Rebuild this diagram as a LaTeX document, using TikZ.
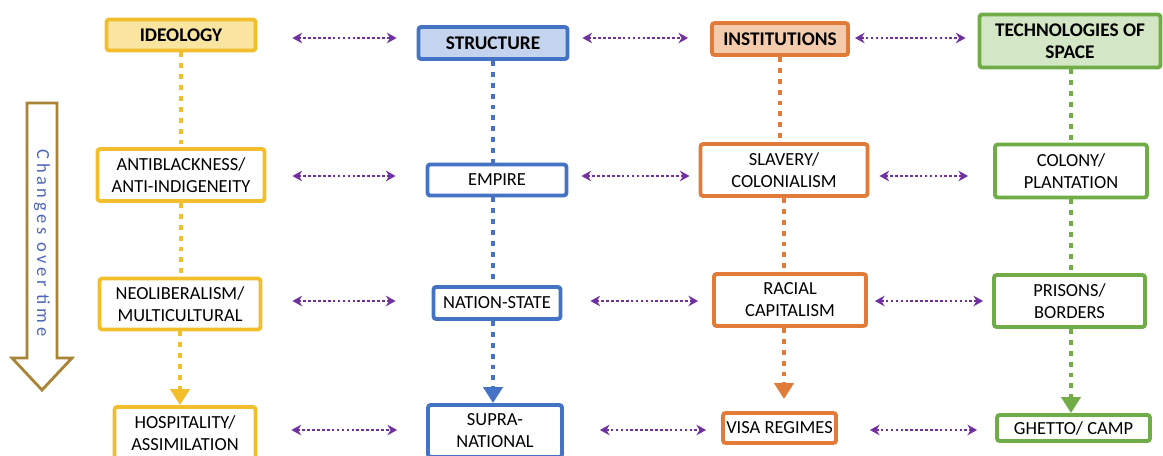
\documentclass[tikz,border=0pt]{standalone}
\usepackage{fontspec}
\setmainfont{Carlito}
\usetikzlibrary{arrows.meta, positioning}

\definecolor{ideoGold}{HTML}{F2BE2C}
\definecolor{ideoFill}{HTML}{F9E4A0}
\definecolor{strucBlue}{HTML}{4472C4}
\definecolor{strucFill}{HTML}{C5D4EE}
\definecolor{instOrange}{HTML}{E07B39}
\definecolor{instFill}{HTML}{F5CBAE}
\definecolor{techGreen}{HTML}{70AD47}
\definecolor{techFill}{HTML}{D3E6C5}
\definecolor{linkPurple}{HTML}{7030A0}
\definecolor{timeBrown}{HTML}{A88434}
\definecolor{timeText}{HTML}{5068B8}

\tikzset{
  box/.style={draw=#1, line width=2.2pt, rounded corners=1.5pt, align=center,
    inner sep=0pt, fill=white, font=\fontsize{10.5}{12.5}\selectfont},
  head/.style={box=#1, font=\fontsize{11}{12.5}\selectfont\bfseries},
  link/.style={linkPurple, line width=1.5pt, dash pattern=on 1.5pt off 1.3pt,
    {Stealth[length=5.5pt,width=6pt]}-{Stealth[length=5.5pt,width=6pt]}},
  flow/.style={line width=2.8pt, dash pattern=on 2.8pt off 3.4pt},
  flowend/.style={flow, -{Triangle[length=0.32cm,width=0.38cm]}}
}

\begin{document}
\begin{tikzpicture}[x=0.02cm, y=-0.02cm]
  \useasboundingbox (0,0) rectangle (1163,456);
  \coordinate (r1) at (0,38);
  \coordinate (r2) at (0,176);
  \coordinate (r3) at (0,301);
  \coordinate (r4) at (0,430);

  \node[head=ideoGold, fill=ideoFill, minimum width=2.98cm, minimum height=0.62cm] (ideo) at (181,35) {IDEOLOGY};
  \node[head=strucBlue, fill=strucFill, minimum width=2.98cm, minimum height=0.64cm] (struc) at (493,43) {STRUCTURE};
  \node[head=instOrange, fill=instFill, minimum width=2.72cm, minimum height=0.64cm] (inst) at (780,39) {INSTITUTIONS};
  \node[head=techGreen, fill=techFill, minimum width=3.62cm, minimum height=1.06cm] (tech) at (1070,41) {TECHNOLOGIES OF\\SPACE};

  \node[box=ideoGold, minimum width=3.34cm, minimum height=1.04cm] (antib) at (181,175) {ANTIBLACKNESS/\\ANTI-INDIGENEITY};
  \node[box=strucBlue, minimum width=2.78cm, minimum height=0.62cm] (empire) at (497,180) {EMPIRE};
  \node[box=instOrange, minimum width=3.34cm, minimum height=1.04cm] (slavery) at (784,170) {SLAVERY/\\COLONIALISM};
  \node[box=techGreen, minimum width=3.04cm, minimum height=1.06cm] (colony) at (1071,171) {COLONY/\\PLANTATION};

  \node[box=ideoGold, minimum width=3.22cm, minimum height=1.02cm] (neolib) at (180,304) {NEOLIBERALISM/\\MULTICULTURAL};
  \node[box=strucBlue, minimum width=2.54cm, minimum height=0.64cm] (nation) at (497,303) {NATION-STATE};
  \node[box=instOrange, minimum width=3.04cm, minimum height=1.04cm] (racial) at (790,300) {RACIAL\\CAPITALISM};
  \node[box=techGreen, minimum width=3.02cm, minimum height=1.04cm] (prisons) at (1069.5,301) {PRISONS/\\BORDERS};

  \node[box=ideoGold, minimum width=2.82cm, minimum height=1.04cm] (hosp) at (185,433) {HOSPITALITY/\\ASSIMILATION};
  \node[box=strucBlue, minimum width=2.68cm, minimum height=1.04cm] (supra) at (495,431) {SUPRA-\\NATIONAL};
  \node[box=instOrange, minimum width=2.26cm, minimum height=0.6cm] (visa) at (779.5,428) {VISA REGIMES};
  \node[box=techGreen, minimum width=3.06cm, minimum height=0.52cm] (ghetto) at (1073.5,428) {GHETTO/ CAMP};

  \draw[flow, ideoGold] (ideo.south) -- (ideo.south |- antib.north);
  \draw[flow, ideoGold] (antib.south) -- (antib.south |- neolib.north);
  \draw[flowend, ideoGold] (neolib.south) -- (neolib.south |- hosp.north);
  \draw[flow, strucBlue] (struc.south) -- (struc.south |- empire.north);
  \draw[flow, strucBlue] (struc.south |- empire.south) -- (struc.south |- nation.north);
  \draw[flowend, strucBlue] (struc.south |- nation.south) -- (struc.south |- supra.north);
  \draw[flow, instOrange] (inst.south) -- (inst.south |- slavery.north);
  \draw[flow, instOrange] (slavery.south) -- (slavery.south |- racial.north);
  \draw[flowend, instOrange, shorten >=0.24cm] (slavery.south |- racial.south) -- (slavery.south |- visa.north);
  \draw[flow, techGreen] (colony.north |- tech.south) -- (colony.north);
  \draw[flow, techGreen] (colony.south) -- (colony.south |- prisons.north);
  \draw[flowend, techGreen] (colony.south |- prisons.south) -- (colony.south |- ghetto.north);

  \draw[link, shorten <=0.7cm, shorten >=0.4cm] (ideo.east |- r1) -- (struc.west |- r1);
  \draw[link, shorten <=0.26cm, shorten >=0.44cm] (struc.east |- r1) -- (inst.west |- r1);
  \draw[link, shorten <=0.1cm, shorten >=0.24cm] (inst.east |- r1) -- (tech.west |- r1);
  \draw[link, shorten <=0.52cm, shorten >=0.6cm] (antib.east |- r2) -- (empire.west |- r2);
  \draw[link, shorten <=0.26cm, shorten >=0.18cm] (empire.east |- r2) -- (slavery.west |- r2);
  \draw[link, shorten <=0.2cm, shorten >=0.5cm] (slavery.east |- r2) -- (colony.west |- r2);
  \draw[link, shorten <=0.6cm, shorten >=0.72cm] (neolib.east |- r3) -- (nation.west |- r3);
  \draw[link, shorten <=0.56cm, shorten >=0.28cm] (nation.east |- r3) -- (racial.west |- r3);
  \draw[link, shorten <=0.14cm, shorten >=0.18cm] (racial.east |- r3) -- (prisons.west |- r3);
  \draw[link, shorten <=0.68cm, shorten >=0.58cm] (hosp.east |- r4) -- (supra.west |- r4);
  \draw[link, shorten <=0.72cm, shorten >=0.3cm] (supra.east |- r4) -- (visa.west |- r4);
  \draw[link, shorten <=0.64cm, shorten >=0.36cm] (visa.east |- r4) -- (ghetto.west |- r4);

  \draw[timeBrown, line width=1.6pt, fill=white, line join=miter]
    (27,103) -- (57,103) -- (57,358) -- (72,358) -- (42,390) -- (12,358) -- (27,358) -- cycle;
  \node[rotate=-90, text=timeText, font=\fontsize{10.5}{11}\selectfont\addfontfeature{LetterSpace=20}] (time) at (42,243) {Changes over time};
\end{tikzpicture}
\end{document}
